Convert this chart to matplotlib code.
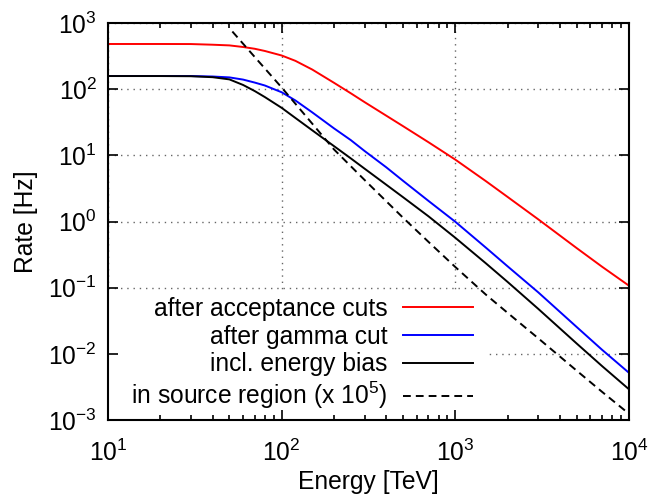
import matplotlib
matplotlib.use("Agg")
import matplotlib.pyplot as plt
from matplotlib.patches import Rectangle
from matplotlib.ticker import LogLocator, NullLocator, NullFormatter

plt.rcParams["font.family"] = ["Liberation Sans", "DejaVu Sans"]
plt.rcParams["font.size"] = 17.7
plt.rcParams["mathtext.fontset"] = "custom"
plt.rcParams["mathtext.rm"] = "Liberation Sans"
plt.rcParams["axes.unicode_minus"] = False

# energies in TeV
energy = [10, 20, 30, 40, 50, 60, 70, 80, 100, 120, 150, 200, 250, 300,
          400, 500, 700, 1000, 1500, 2000, 3000, 5000, 7000, 10000]

# rates in Hz
rate_acceptance = [482, 482, 481, 470, 459, 434, 408, 378, 323, 268, 198, 125,
                   86.7, 63.8, 39.8, 27.6, 15.8, 8.61, 4.07, 2.35, 1.08, 0.396,
                   0.207, 0.107]
rate_gamma = [158, 158, 158, 155.5, 150.7, 139.6, 125.8, 113.7, 89.8, 67.5,
              44.6, 25.6, 17.0, 11.65, 6.6, 4.12, 2.05, 0.99, 0.402, 0.21,
              0.0851, 0.0254, 0.0115, 0.00516]
rate_bias = [158, 158, 157, 151.8, 140.6, 115.7, 93.6, 76, 52.2, 36.7, 23.9,
             13.8, 9.0, 6.3, 3.6, 2.33, 1.2, 0.567, 0.233, 0.122, 0.0479,
             0.0143, 0.00652, 0.00291]

energy_source = [52, 70, 100, 150, 200, 300, 500, 700, 1000, 1500, 2000, 3000,
                 5000, 7000, 10000]
rate_source = [744, 306, 106, 30.1, 12.3, 4.25, 1.14, 0.493, 0.205, 0.0784,
               0.0416, 0.0172, 0.00556, 0.00266, 0.00124]

labels = ["after acceptance cuts", "after gamma cut", "incl. energy bias",
          "in source region (x 10$^5$)"]

xlim = (10, 1e4)
ylim = (1e-3, 1e3)
pos = [0.1639, 0.1498, 0.7906, 0.8036]

fig = plt.figure(figsize=(6.59, 4.94), dpi=100)

# grid lives on its own axes underneath, so the key box can hide it
# without hiding the tick marks
gax = fig.add_axes(pos, zorder=0)
gax.set_xscale("log")
gax.set_yscale("log")
gax.set_xlim(*xlim)
gax.set_ylim(*ylim)
gax.xaxis.set_major_locator(LogLocator(base=10, numticks=10))
gax.yaxis.set_major_locator(LogLocator(base=10, numticks=10))
gax.xaxis.set_minor_locator(NullLocator())
gax.yaxis.set_minor_locator(NullLocator())
gax.grid(True, which="major", color="0.4", linestyle=(0, (1, 3.5)), linewidth=1)
gax.tick_params(which="both", length=0, labelbottom=False, labelleft=False)
for sp in gax.spines.values():
    sp.set_visible(False)

ax = fig.add_axes(pos, zorder=1)
ax.patch.set_alpha(0)
ax.set_axisbelow(False)

lw = 1.4
ax.plot(energy, rate_acceptance, color="#ff0000", lw=lw, label=labels[0])
ax.plot(energy, rate_gamma, color="#0000ff", lw=lw, label=labels[1])
ax.plot(energy, rate_bias, color="black", lw=lw, label=labels[2])
ax.plot(energy_source, rate_source, color="black", lw=lw,
        linestyle=(0, (4, 2.6)), label=labels[3])

ax.set_xscale("log")
ax.set_yscale("log")
ax.set_xlim(*xlim)
ax.set_ylim(*ylim)

ax.xaxis.set_major_locator(LogLocator(base=10, numticks=10))
ax.xaxis.set_minor_locator(LogLocator(base=10, subs=range(2, 10), numticks=20))
ax.xaxis.set_minor_formatter(NullFormatter())
ax.yaxis.set_major_locator(LogLocator(base=10, numticks=10))
ax.yaxis.set_minor_locator(NullLocator())

ax.tick_params(which="both", direction="in", top=True, right=True, width=1.2)
ax.tick_params(which="major", length=7.5)
ax.tick_params(which="minor", length=3.6)
ax.tick_params(axis="x", pad=14)
ax.tick_params(axis="y", pad=8)
for sp in ax.spines.values():
    sp.set_linewidth(1.5)

ax.set_xlabel("Energy [TeV]")
ax.set_ylabel("Rate [Hz]")
ax.xaxis.set_label_coords(0.5, -0.126)
ax.yaxis.set_label_coords(-0.134, 0.5)

# white key box in the lower left corner
ax.add_patch(Rectangle((0, 0), 0.7294, 0.325, transform=ax.transAxes,
                       facecolor="white", edgecolor="none", zorder=1.9))
ax.legend(loc="lower right", bbox_to_anchor=(0.7177, 0.0), borderaxespad=0,
          markerfirst=False, frameon=False, handlelength=2.85,
          handletextpad=0.65, labelspacing=0.15, borderpad=0.35)

fig.savefig("out.png", dpi=100)
